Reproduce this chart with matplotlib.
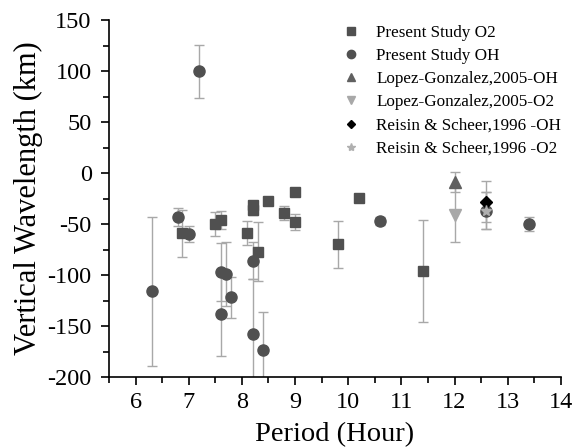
import numpy as np
import matplotlib
matplotlib.use("Agg")
import matplotlib.pyplot as plt
from matplotlib.ticker import MultipleLocator

plt.rcParams['font.family'] = ['Liberation Serif', 'DejaVu Serif']
plt.rcParams['axes.unicode_minus'] = False

# Present Study O2
o2_x = [6.88, 7.49, 7.60, 8.10, 8.20, 8.20, 8.30, 8.50, 8.80, 9.00, 9.00, 9.80, 10.20, 11.40]
o2_y = [-59, -50, -46, -59, -31, -36, -77, -27, -39, -19, -48, -70, -24, -96]
o2_err = [23, 12, 9, 12, 3, 5, 29, 4, 7, 0, 8, 23, 0, 50]

# Present Study OH
oh_x = [6.30, 6.80, 7.00, 7.20, 7.60, 7.60, 7.70, 7.80, 8.20, 8.20, 8.40, 10.60, 12.60, 13.40]
oh_y = [-116, -43, -60, 100, -97, -138, -99, -122, -86, -158, -174, -47, -37, -50]
oh_err = [73, 9, 8, 26, 28, 41, 31, 20, 18, 54, 38, 4, 18, 7]

# literature values
lg_oh_x, lg_oh_y, lg_oh_err = [12.0], [-9], [10]
lg_o2_x, lg_o2_y, lg_o2_err = [12.0], [-41], [27]
rs_oh_x, rs_oh_y, rs_oh_err = [12.6], [-28], [20]
rs_o2_x, rs_o2_y, rs_o2_err = [12.6], [-37], [18]

fig = plt.figure(figsize=(5.74, 4.48), dpi=100)
ax = fig.add_axes([0.19, 0.1585, 0.787, 0.7965])

ecol = '#a8a8a8'
common = dict(linestyle='none', ecolor=ecol, elinewidth=1.0, capsize=3.5, capthick=1.0)

ax.errorbar(o2_x, o2_y, yerr=o2_err, fmt='s', color='#505050', markersize=7,
            label='Present Study O2', **common)
ax.errorbar(oh_x, oh_y, yerr=oh_err, fmt='o', color='#505050', markersize=8,
            label='Present Study OH', **common)
ax.errorbar(lg_oh_x, lg_oh_y, yerr=lg_oh_err, fmt='^', color='#606060', markersize=8,
            label='Lopez-Gonzalez,2005-OH', **common)
ax.errorbar(lg_o2_x, lg_o2_y, yerr=lg_o2_err, fmt='v', color='#a8a8a8', markersize=8,
            label='Lopez-Gonzalez,2005-O2', **common)
ax.errorbar(rs_oh_x, rs_oh_y, yerr=rs_oh_err, fmt='D', color='black', markersize=6,
            label='Reisin & Scheer,1996 -OH', **common)
ax.errorbar(rs_o2_x, rs_o2_y, yerr=rs_o2_err, fmt='*', color='#b0b0b0', markersize=8,
            label='Reisin & Scheer,1996 -O2', **common)

ax.set_xlim(5.5, 14)
ax.set_ylim(-200, 150)
ax.xaxis.set_major_locator(MultipleLocator(1))
ax.xaxis.set_minor_locator(MultipleLocator(0.5))
ax.yaxis.set_major_locator(MultipleLocator(50))
ax.yaxis.set_minor_locator(MultipleLocator(25))
ax.tick_params(which='major', direction='out', length=6, width=1.2, labelsize=17.5)
ax.tick_params(axis='x', which='major', pad=5)
ax.tick_params(axis='y', which='major', pad=6.5)
ax.tick_params(which='minor', direction='out', length=4, width=1.2)

for s in ['top', 'right']:
    ax.spines[s].set_visible(False)
for s in ['left', 'bottom']:
    ax.spines[s].set_linewidth(1.2)

ax.set_xlabel('Period (Hour)', fontsize=20.5, labelpad=6)
ax.set_ylabel('Vertical Wavelength (km)', fontsize=22, labelpad=3)

handles, labels = ax.get_legend_handles_labels()
handles = [h[0] for h in handles]
ax.legend(handles, labels, loc='upper left', bbox_to_anchor=(0.478, 1.03), frameon=False,
          fontsize=12.3, markerscale=0.75, handlelength=1.2, handletextpad=0.9,
          labelspacing=0.42)

fig.savefig('out.png', dpi=100)
